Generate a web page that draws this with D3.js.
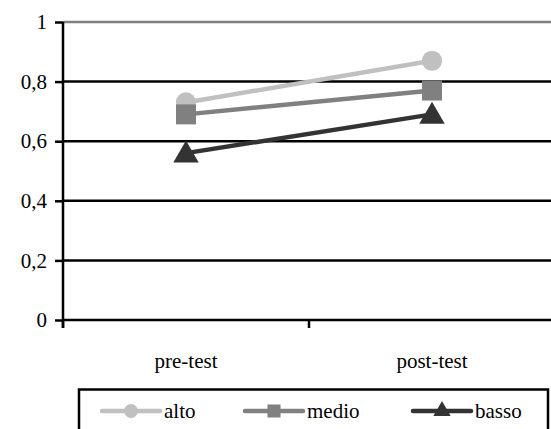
<!DOCTYPE html>
<html><head><meta charset="utf-8">
<script src="https://cdn.jsdelivr.net/npm/d3@7"></script>
</head><body style="margin:0;background:#fff"><svg id="c" width="551" height="429" style="display:block"></svg>
<script>
const categories = ["pre-test", "post-test"];
const seriesNames = ["alto", "medio", "basso"];
const alto = [0.73, 0.87];
const medio = [0.69, 0.77];
const basso = [0.56, 0.69];
const yTicks = [0, 0.2, 0.4, 0.6, 0.8, 1];
const colors = ["#c0c0c0", "#808080", "#333333"];
const shapes = [d3.symbolCircle, d3.symbolSquare, d3.symbolTriangle];
const values = [alto, medio, basso];
const FONT = '"Liberation Serif"';

const svg = d3.select("#c");
const x = d3.scaleBand().domain(categories).range([63, 555]);
const y = d3.scaleLinear().domain([0, 1]).range([320, 22]);
const fmt = d => String(d).replace(".", ",");

// gridlines
svg.append("g").selectAll("line").data(yTicks).join("line")
  .attr("x1", 63).attr("x2", 555)
  .attr("y1", d => y(d)).attr("y2", d => y(d))
  .attr("stroke", d => d === 1 ? "#808080" : "#000").attr("stroke-width", 2.5);

// y axis
const ya = svg.append("g").attr("transform", "translate(63,0)")
  .call(d3.axisLeft(y).tickValues(yTicks).tickFormat(fmt).tickSize(8).tickPadding(8));
ya.attr("font-family", null).attr("font-size", null);
ya.select(".domain").attr("d", `M0,${y(1)}V328`).attr("stroke", "#000").attr("stroke-width", 2.5);
ya.selectAll(".tick line").attr("stroke-width", 2.5);
ya.selectAll("text").attr("fill", "#000").style("font-size", "21px", "important")
  .style("font-family", FONT, "important");

// x axis ticks at band boundaries
const bounds = [x.range()[0], ...categories.map(c => x(c) + x.bandwidth())];
svg.append("g").selectAll("line").data(bounds).join("line")
  .attr("x1", d => d).attr("x2", d => d).attr("y1", 320).attr("y2", 328)
  .attr("stroke", "#000").attr("stroke-width", 2.5);
svg.append("g").selectAll("text").data(categories).join("text")
  .attr("x", d => x(d) + x.bandwidth() / 2).attr("y", 368)
  .attr("text-anchor", "middle").style("font-size", "21px", "important")
  .style("font-family", FONT, "important").text(d => d);

// series
const line = d3.line().x((d, i) => x(categories[i]) + x.bandwidth() / 2).y(d => y(d));
values.forEach((vals, s) => {
  const g = svg.append("g");
  g.append("path").attr("d", line(vals)).attr("fill", "none")
    .attr("stroke", colors[s]).attr("stroke-width", 4.5);
  g.selectAll("path.m").data(vals).join("path").attr("class", "m")
    .attr("transform", (d, i) => `translate(${x(categories[i]) + x.bandwidth() / 2},${y(d) + (s === 2 ? 2 : 0)})`)
    .attr("d", d3.symbol().type(shapes[s]).size(s === 2 ? 280 : (s === 0 ? 320 : 400)))
    .attr("fill", colors[s]);
});

// legend
const lg = svg.append("g");
lg.append("rect").attr("x", 79).attr("y", 389.5).attr("width", 469).attr("height", 50)
  .attr("fill", "#fff").attr("stroke", "#000").attr("stroke-width", 2.5);
const legX = [102, 245, 413];
seriesNames.forEach((n, s) => {
  const gx = legX[s];
  lg.append("line").attr("x1", gx).attr("x2", gx + 58).attr("y1", 411).attr("y2", 411)
    .attr("stroke", colors[s]).attr("stroke-width", 4.5).attr("stroke-linecap", "round");
  lg.append("path").attr("transform", `translate(${gx + 29},411)`)
    .attr("d", d3.symbol().type(shapes[s]).size(s === 2 ? 130 : (s === 0 ? 150 : 170)))
    .attr("fill", colors[s]);
  lg.append("text").attr("x", gx + 62).attr("y", 418).style("font-size", "21px", "important")
    .style("font-family", FONT, "important").text(n);
});
</script></body></html>
